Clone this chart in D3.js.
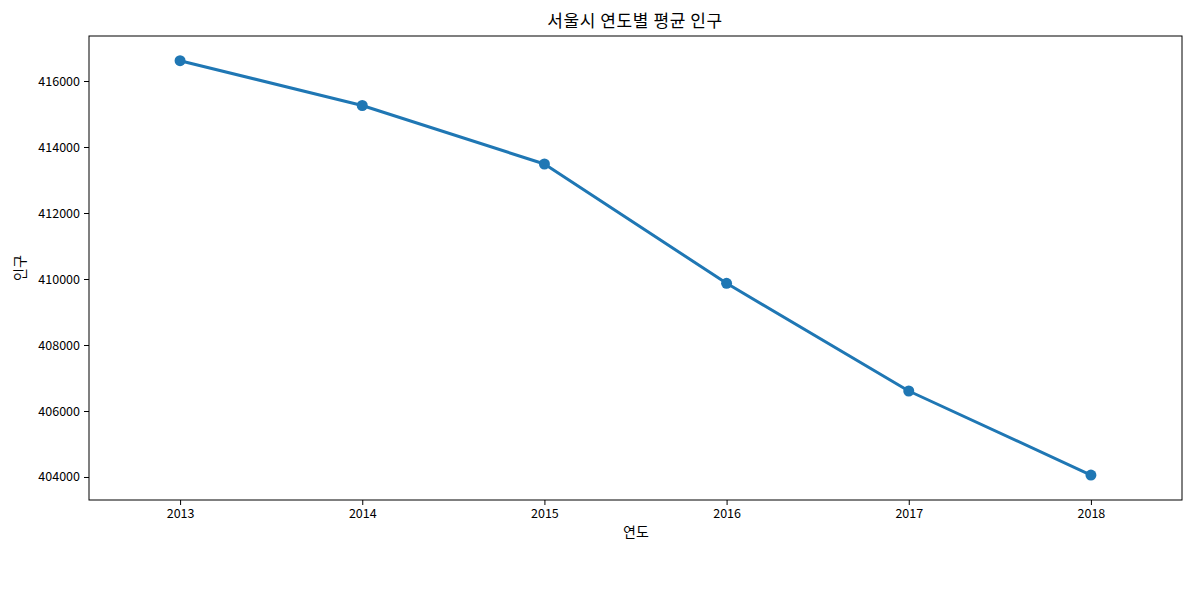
<!DOCTYPE html>
<html><head><meta charset="utf-8">
<script src="https://cdn.jsdelivr.net/npm/d3@7"></script>
<style>body{margin:0;background:#fff;} text{font-family:"Noto Sans CJK KR","Noto Sans",sans-serif;}</style>
</head><body><svg id="c" width="1200" height="600"></svg>
<script>
const years = ["2013","2014","2015","2016","2017","2018"];
const population = [416615, 415258, 413485, 409870, 406606, 404060];
const yTicks = [404000, 406000, 408000, 410000, 412000, 414000, 416000];

const svg = d3.select("#c");
const L = 89, R = 1182, T = 36, B = 500;
const x = d3.scaleLinear().domain([-0.5, years.length - 0.5]).range([L, R]);
const y = d3.scaleLinear().domain([403303, 417364]).range([B, T]);

const font = '"Noto Sans CJK KR","Noto Sans",sans-serif';

const xa = svg.append("g").attr("transform", `translate(0,${B})`)
  .call(d3.axisBottom(x).tickValues(d3.range(years.length)).tickFormat(i => years[i]).tickSize(5).tickPadding(4));
const ya = svg.append("g").attr("transform", `translate(${L},0)`)
  .call(d3.axisLeft(y).tickValues(yTicks).tickFormat(d3.format("d")).tickSize(5).tickPadding(4));
[xa, ya].forEach(a => {
  a.select(".domain").remove();
  a.selectAll("text").style("font-size", "12.5px").attr("fill", "#000").style("font-family", font);
  a.selectAll("line").attr("stroke", "#000").attr("stroke-width", 1);
});

svg.append("rect").attr("x", L).attr("y", T).attr("width", R - L).attr("height", B - T)
  .attr("fill", "none").attr("stroke", "#000").attr("stroke-width", 1);

const line = d3.line().x((d, i) => x(i)).y(d => y(d));
svg.append("path").datum(population).attr("d", line)
  .attr("fill", "none").attr("stroke", "#1f77b4").attr("stroke-width", 3).attr("stroke-linejoin", "round");
svg.selectAll("circle.pt").data(population).enter().append("circle")
  .attr("cx", (d, i) => x(i)).attr("cy", d => y(d)).attr("r", 5.5).attr("fill", "#1f77b4");

svg.append("text").attr("x", 635).attr("y", 27).attr("text-anchor", "middle")
  .style("font-size", "17px").style("letter-spacing", "0.6px").text("서울시 연도별 평균 인구");
svg.append("text").attr("x", 636).attr("y", 537).attr("text-anchor", "middle")
  .style("font-size", "14px").text("연도");
svg.append("text").attr("transform", `translate(25,${(T + B) / 2}) rotate(-90)`).attr("text-anchor", "middle")
  .style("font-size", "14px").text("인구");
</script></body></html>
